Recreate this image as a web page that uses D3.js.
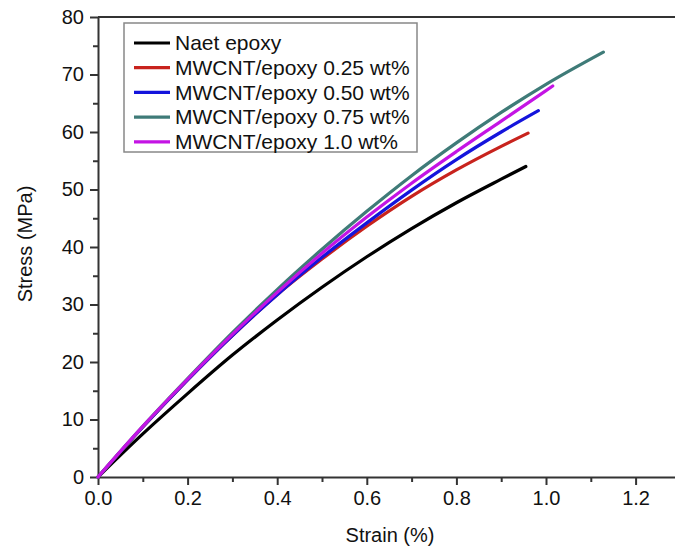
<!DOCTYPE html>
<html>
<head>
<meta charset="utf-8">
<script src="https://cdn.jsdelivr.net/npm/d3@7"></script>
<style>
  body { margin: 0; background: #fff; }
  svg { display: block; font-family: 'Liberation Sans', Arial, sans-serif; }
</style>
</head>
<body>
<div id="chart"></div>
<script>
// series names (legend order)
const seriesNames = [
    'Naet epoxy',
    'MWCNT/epoxy 0.25 wt%',
    'MWCNT/epoxy 0.50 wt%',
    'MWCNT/epoxy 0.75 wt%',
    'MWCNT/epoxy 1.0 wt%'
];
const seriesColors = ['#000000', '#c8231d', '#1414dc', '#3f7b78', '#c414e4'];

// strain (%) / stress (MPa) points
const neatStrain = [0, 0.1, 0.2, 0.3, 0.4, 0.5, 0.6, 0.7, 0.8, 0.9, 0.955];
const neatStress = [0, 7.5, 14.5, 21.2, 27.3, 33.0, 38.3, 43.2, 47.7, 51.8, 54.0];

const c025Strain = [0, 0.1, 0.2, 0.3, 0.4, 0.5, 0.6, 0.7, 0.8, 0.9, 0.96];
const c025Stress = [0, 8.7, 16.9, 24.6, 31.7, 37.9, 43.6, 48.8, 53.4, 57.5, 59.8];

const c050Strain = [0, 0.1, 0.2, 0.3, 0.4, 0.5, 0.6, 0.7, 0.8, 0.9, 0.983];
const c050Stress = [0, 8.7, 16.9, 24.6, 31.7, 38.2, 44.2, 49.9, 55.2, 60.0, 63.7];

const c075Strain = [0, 0.1, 0.2, 0.3, 0.4, 0.5, 0.6, 0.7, 0.8, 0.9, 1.0, 1.128];
const c075Stress = [0, 8.8, 17.1, 25.1, 32.6, 39.6, 46.2, 52.4, 58.1, 63.4, 68.3, 73.9];

const c100Strain = [0, 0.1, 0.2, 0.3, 0.4, 0.5, 0.6, 0.7, 0.8, 0.9, 1.015];
const c100Stress = [0, 8.8, 17.0, 24.8, 32.1, 38.9, 45.2, 51.1, 56.6, 61.9, 68.0];

const xTickValues = [0, 0.2, 0.4, 0.6, 0.8, 1.0, 1.2];
const xMinorValues = [0.1, 0.3, 0.5, 0.7, 0.9, 1.1];
const yTickValues = [0, 10, 20, 30, 40, 50, 60, 70, 80];
const yMinorValues = [5, 15, 25, 35, 45, 55, 65, 75];

const allStrain = [neatStrain, c025Strain, c050Strain, c075Strain, c100Strain];
const allStress = [neatStress, c025Stress, c050Stress, c075Stress, c100Stress];

const size = { windowWidth: 675, windowHeight: 551 };
const margin = { left: 98, top: 17, bottom: 477 };
const axisColor = '#333';
const fontFamily = "'Liberation Sans', Arial, sans-serif";

const svg = d3.select('#chart')
    .append('svg')
    .attr('width', size.windowWidth)
    .attr('height', size.windowHeight);

// scales
const xScale = d3.scaleLinear()
    .domain([0, 1.29])
    .range([margin.left, margin.left + 1.29 * 448]);
const yScale = d3.scaleLinear()
    .domain([0, 80])
    .range([margin.bottom, margin.top]);

// x axis: major ticks with labels, minor ticks between
svg.append('g')
    .attr('transform', 'translate(0,' + margin.bottom + ')')
    .call(d3.axisBottom(xScale)
        .tickValues(xTickValues)
        .tickFormat(d3.format('.1f'))
        .tickSizeInner(8)
        .tickSizeOuter(0)
        .tickPadding(6));
svg.append('g')
    .attr('transform', 'translate(0,' + margin.bottom + ')')
    .call(d3.axisBottom(xScale).tickValues(xMinorValues).tickSize(5).tickFormat(''))
    .select('.domain').remove();

// y axis
svg.append('g')
    .attr('transform', 'translate(' + margin.left + ',0)')
    .call(d3.axisLeft(yScale)
        .tickValues(yTickValues)
        .tickSizeInner(8)
        .tickSizeOuter(0)
        .tickPadding(6));
svg.append('g')
    .attr('transform', 'translate(' + margin.left + ',0)')
    .call(d3.axisLeft(yScale).tickValues(yMinorValues).tickSize(5).tickFormat(''))
    .select('.domain').remove();

// top frame line
svg.append('line')
    .attr('x1', margin.left)
    .attr('x2', size.windowWidth)
    .attr('y1', margin.top)
    .attr('y2', margin.top)
    .style('stroke', axisColor)
    .style('stroke-width', 2);

svg.selectAll('.domain, .tick line')
    .style('stroke', axisColor)
    .style('stroke-width', 2);
svg.selectAll('.tick text')
    .style('font-size', '20px')
    .style('font-family', fontFamily)
    .style('fill', '#111');

// axis titles
svg.append('text')
    .attr('x', 390)
    .attr('y', 542)
    .attr('text-anchor', 'middle')
    .style('font-size', '20px')
    .style('font-family', fontFamily)
    .style('fill', '#111')
    .text('Strain (%)');
svg.append('text')
    .attr('transform', 'translate(32,244) rotate(-90)')
    .attr('text-anchor', 'middle')
    .style('font-size', '20px')
    .style('font-family', fontFamily)
    .style('fill', '#111')
    .text('Stress (MPa)');

// curves
const line = d3.line()
    .x(d => xScale(d[0]))
    .y(d => yScale(d[1]))
    .curve(d3.curveMonotoneX);

seriesNames.forEach((name, i) => {
    const pts = allStrain[i].map((s, j) => [s, allStress[i][j]]);
    svg.append('path')
        .datum(pts)
        .attr('d', line)
        .style('fill', 'none')
        .style('stroke', seriesColors[i])
        .style('stroke-width', 3.2)
        .style('stroke-linecap', 'round');
});

// legend
const legend = svg.append('g').attr('class', 'legend');
legend.append('rect')
    .attr('x', 124)
    .attr('y', 23)
    .attr('width', 293)
    .attr('height', 129)
    .style('fill', '#fff')
    .style('stroke', '#888')
    .style('stroke-width', 1.5);
seriesNames.forEach((name, i) => {
    const cy = 43 + i * 24.7;
    legend.append('line')
        .attr('x1', 134)
        .attr('x2', 170)
        .attr('y1', cy)
        .attr('y2', cy)
        .style('stroke', seriesColors[i])
        .style('stroke-width', 3.2);
    legend.append('text')
        .attr('x', 175)
        .attr('y', cy)
        .attr('dy', '0.35em')
        .style('font-size', '21px')
        .style('font-family', fontFamily)
        .style('fill', '#111')
        .text(name);
});
</script>
</body>
</html>
